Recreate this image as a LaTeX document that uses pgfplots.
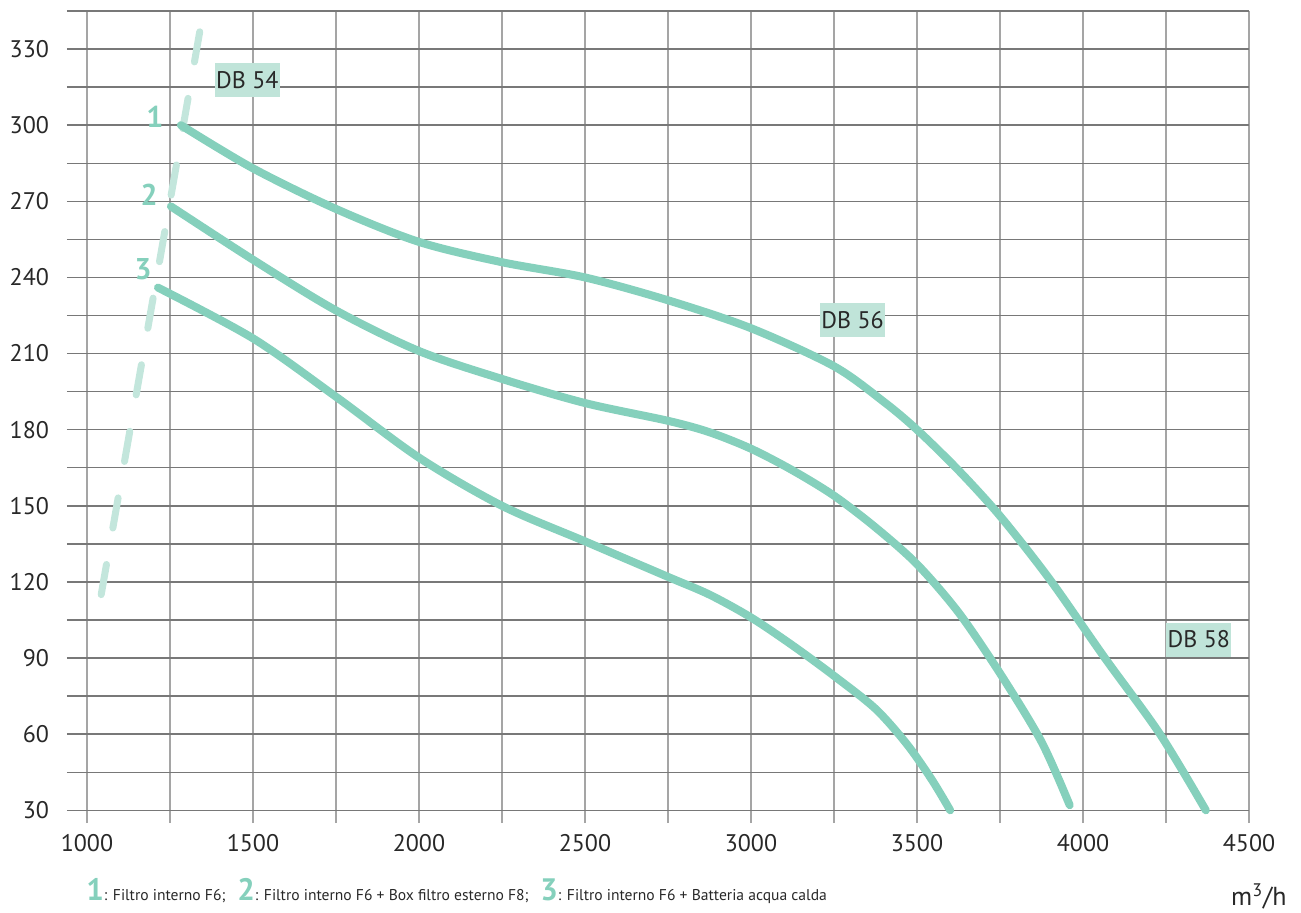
\documentclass[border=0pt]{standalone}
\usepackage{pgfplots}
\pgfplotsset{compat=1.18}
\usepackage{fontspec}
\setmainfont{PT Sans}
\definecolor{curve}{RGB}{133,208,188}
\definecolor{curvelight}{RGB}{195,230,220}
\definecolor{boxfill}{RGB}{192,228,217}
\definecolor{txt}{RGB}{40,40,40}
\definecolor{hgrid}{RGB}{120,120,120}
\definecolor{vgrid}{RGB}{165,165,165}
\begin{document}
\begin{tikzpicture}
\useasboundingbox (-33.5bp,-45bp) rectangle (617bp,411.5bp);
\begin{axis}[
  at={(0,0)}, anchor=south west,
  scale only axis,
  width=591bp, height=406bp,
  xmin=940, xmax=4500, ymin=25, ymax=345,
  clip=false,
  axis line style={draw=none},
  xtick={1000,1500,...,4500},
  minor xtick={1250,1750,...,4250},
  ytick={30,60,...,330},
  minor ytick={45,75,...,345},
  major tick length=0pt, minor tick length=0pt,
  grid=both,
  x grid style={vgrid, line width=0.7bp},
  y grid style={hgrid, line width=0.7bp},
  minor x grid style={vgrid, line width=0.7bp},
  minor y grid style={hgrid, line width=0.7bp},
  /pgf/number format/assume math mode=true,
  /pgf/number format/1000 sep={},
  ticklabel style={font=\fontsize{12bp}{14bp}\selectfont, text=txt},
  yticklabel style={xshift=-5.5bp},
  xticklabel style={yshift=-2bp},
]
% dashed DB 54
\addplot[curvelight, line width=3.5bp, line cap=round, dash pattern=on 15.3bp off 18.5bp] coordinates {(1043,115) (1340,337)};
% curve 1
\addplot[curve, line width=4bp, line cap=round, smooth, tension=0.5] coordinates {
(1283,300) (1500,283) (1750,267) (2000,254) (2250,246) (2500,240) (2750,231) (3000,220) (3250,205) (3400,191) (3500,180) (3625,164) (3750,146) (3900,121) (4066,90) (4232,60) (4370,30)};
% curve 2
\addplot[curve, line width=4bp, line cap=round, smooth, tension=0.5] coordinates {
(1253,268) (1500,247) (1750,227) (2000,211) (2250,200) (2500,190.5) (2750,183.5) (2875,179) (3000,172.5) (3125,164) (3250,154) (3375,141.5) (3500,127) (3625,108) (3750,84) (3875,57) (3960,32)};
% curve 3
\addplot[curve, line width=4bp, line cap=round, smooth, tension=0.5] coordinates {
(1214,236) (1500,216) (1750,193) (2000,169) (2250,150) (2500,136) (2750,122) (2875,115) (3000,106) (3125,95) (3250,83) (3375,70) (3470,56) (3545,42) (3600,30)};
% DB labels
\node[fill=boxfill, minimum width=32.5bp, minimum height=17bp, inner sep=0pt, text=txt, font=\fontsize{12bp}{14bp}\selectfont] at (axis cs:1483,317.8) {DB 54};
\node[fill=boxfill, minimum width=32.5bp, minimum height=17bp, inner sep=0pt, text=txt, font=\fontsize{12bp}{14bp}\selectfont] at (axis cs:3306,223.3) {DB 56};
\node[fill=boxfill, minimum width=32.5bp, minimum height=17bp, inner sep=0pt, text=txt, font=\fontsize{12bp}{14bp}\selectfont] at (axis cs:4349,97.3) {DB 58};
% curve numbers
\node[text=curve, font=\fontsize{15bp}{15bp}\selectfont\bfseries, inner sep=0pt] at (axis cs:1205,303.2) {1};
\node[text=curve, font=\fontsize{15bp}{15bp}\selectfont\bfseries, inner sep=0pt] at (axis cs:1187,272.5) {2};
\node[text=curve, font=\fontsize{15bp}{15bp}\selectfont\bfseries, inner sep=0pt] at (axis cs:1169,243.4) {3};
\end{axis}
% bottom legend
\node[anchor=base west, inner sep=0pt] at (9.5bp,-38.5bp) {{\fontsize{15.5bp}{15bp}\selectfont\bfseries\color{curve}1}{\fontsize{7.8bp}{10bp}\selectfont\color{txt}: Filtro interno F6;}};
\node[anchor=base west, inner sep=0pt] at (85bp,-38.5bp) {{\fontsize{15.5bp}{15bp}\selectfont\bfseries\color{curve}2}{\fontsize{7.8bp}{10bp}\selectfont\color{txt}: Filtro interno F6 + Box filtro esterno F8;}};
\node[anchor=base west, inner sep=0pt] at (236.5bp,-38.5bp) {{\fontsize{15.5bp}{15bp}\selectfont\bfseries\color{curve}3}{\fontsize{7.8bp}{10bp}\selectfont\color{txt}: Filtro interno F6 + Batteria acqua calda}};
\node[anchor=base east, inner sep=0pt, text=txt, font=\fontsize{13bp}{15bp}\selectfont] at (610bp,-41bp) {m\textsuperscript{3}/h};
\end{tikzpicture}
\end{document}
